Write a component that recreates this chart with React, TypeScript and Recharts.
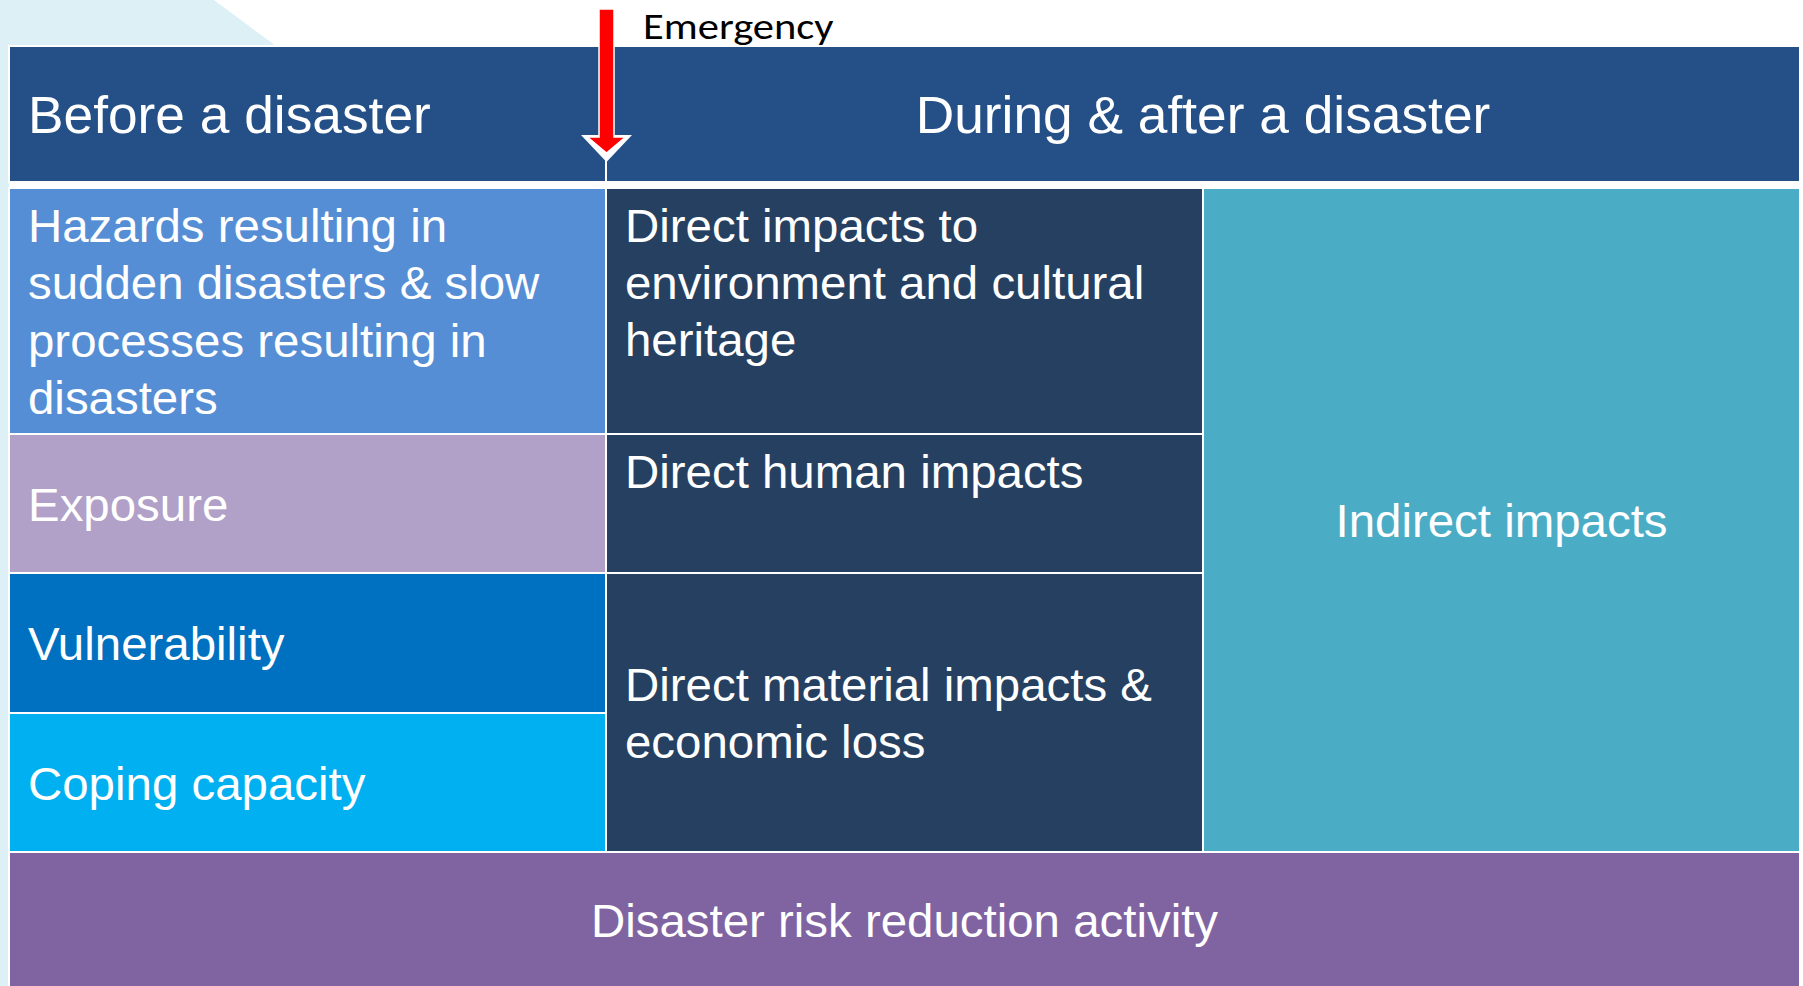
import React from "react";
import { ComposedChart, XAxis, YAxis, ReferenceArea, ReferenceLine } from "recharts";

// ---- content of the diagram ----
const phases = ["Before a disaster", "During & after a disaster"];
const phaseColumns = [
  [0, 1],
  [1, 3],
];

const riskFactors = [
  ["Hazards resulting in", "sudden disasters & slow", "processes resulting in", "disasters"],
  ["Exposure"],
  ["Vulnerability"],
  ["Coping capacity"],
];

const directImpacts = [
  ["Direct impacts to", "environment and cultural", "heritage"],
  ["Direct human impacts"],
  ["Direct material impacts &", "economic loss"],
];
// which body rows each direct impact spans [from, to)
const directImpactRows = [
  [0, 1],
  [1, 2],
  [2, 4],
];

const indirectImpacts = ["Indirect impacts"];
const drrActivity = ["Disaster risk reduction activity"];

const emergencyLabel = "Emergency";
const emergencyColumn = 1; // boundary between "before" and "during"

// ---- layout (slide pixels) ----
const W = 1803;
const H = 986;
const HEADER_Y = [46, 182];
const BODY_ROWS = [188, 434, 573, 713, 852];
const FOOTER_Y = [852, 988];
const ARROW_Y = [9, 162];

// ---- styles ----
const HEADER_FILL = "#245087";
const RISK_FILLS = ["#558ed5", "#b1a0c7", "#0070c0", "#00b0f0"];
const DIRECT_FILL = "#264061";
const INDIRECT_FILL = "#4bacc6";
const FOOTER_FILL = "#8064a2";
const BODY_SIZE = 46.5;
const PHASE_SIZE = 51.5;
const LINE_H = 57.5;
const FONT = "'Liberation Sans', Arial, sans-serif";

type Cell = {
  x1: number;
  x2: number;
  y1: number;
  y2: number;
  lines: string[];
  fill: string;
  align: "left" | "center";
  valign: "top" | "middle";
  size: number;
  sx: number;
};

const cells: Cell[] = [
  ...phases.map((p, i) => ({
    x1: phaseColumns[i][0],
    x2: phaseColumns[i][1],
    y1: HEADER_Y[0],
    y2: HEADER_Y[1],
    lines: [p],
    fill: HEADER_FILL,
    align: (i === 0 ? "left" : "center") as "left" | "center",
    valign: "middle" as const,
    size: PHASE_SIZE,
    sx: 1.035,
  })),
  ...riskFactors.map((lines, i) => ({
    x1: 0,
    x2: 1,
    y1: BODY_ROWS[i],
    y2: BODY_ROWS[i + 1],
    lines,
    fill: RISK_FILLS[i],
    align: "left" as const,
    valign: "middle" as const,
    size: BODY_SIZE,
    sx: 1.02,
  })),
  ...directImpacts.map((lines, i) => ({
    x1: 1,
    x2: 2,
    y1: BODY_ROWS[directImpactRows[i][0]],
    y2: BODY_ROWS[directImpactRows[i][1]],
    lines,
    fill: DIRECT_FILL,
    align: "left" as const,
    valign: (i < 2 ? "top" : "middle") as "top" | "middle",
    size: BODY_SIZE,
    sx: 1.02,
  })),
  {
    x1: 2,
    x2: 3,
    y1: BODY_ROWS[0],
    y2: BODY_ROWS[4],
    lines: indirectImpacts,
    fill: INDIRECT_FILL,
    align: "center",
    valign: "middle",
    size: BODY_SIZE,
    sx: 1.02,
  },
  {
    x1: 0,
    x2: 3,
    y1: FOOTER_Y[0],
    y2: FOOTER_Y[1],
    lines: drrActivity,
    fill: FOOTER_FILL,
    align: "center",
    valign: "middle",
    size: BODY_SIZE,
    sx: 1.02,
  },
];

const cellShape = (cell: Cell) => (p: any) => {
  const { x, y, width, height } = p;
  const n = cell.lines.length;
  const tx = cell.align === "left" ? x + 19 : x + width / 2;
  const ty =
    cell.valign === "top"
      ? y + 53.5
      : y + height / 2 - ((n - 1) * LINE_H) / 2 + cell.size * 0.37;
  return (
    <g>
      <rect x={x} y={y} width={width} height={height} fill={cell.fill} stroke="#fff" strokeWidth={2} />
      <text
        transform={`translate(${tx},${ty}) scale(${cell.sx},1)`}
        fill="#fff"
        fontFamily={FONT}
        fontSize={cell.size}
        textAnchor={cell.align === "left" ? "start" : "middle"}
      >
        {cell.lines.map((l, i) => (
          <tspan key={i} x={0} dy={i === 0 ? 0 : LINE_H}>
            {l}
          </tspan>
        ))}
      </text>
    </g>
  );
};

const EmergencyArrow = (p: any) => {
  const cx = p.x1 + 0.5;
  const top = p.y1;
  const tip = p.y2;
  return (
    <g>
      <polygon
        points={`${cx - 25.5},${tip - 27} ${cx + 25.5},${tip - 27} ${cx},${tip}`}
        fill="#fff"
      />
      <polygon
        points={[
          [cx - 7.5, top],
          [cx + 7.5, top],
          [cx + 7.5, tip - 25],
          [cx + 19, tip - 25],
          [cx, tip - 9],
          [cx - 19, tip - 25],
          [cx - 7.5, tip - 25],
        ]
          .map((q) => q.join(","))
          .join(" ")}
        fill="#ff0000"
        stroke="#fff"
        strokeWidth={1.5}
      />
      <text
        transform={`translate(${cx + 36.5},39) scale(1.15,1)`}
        fontFamily="Carlito, Lato, sans-serif"
        fontSize={37}
        fill="#000"
      >
        {emergencyLabel}
      </text>
    </g>
  );
};

export default function App() {
  return (
    <div style={{ position: "absolute", left: 0, top: 0, width: W, height: H, background: "#fff", overflow: "hidden" }}>
      <svg width={W} height={H} style={{ position: "absolute", left: 0, top: 0 }}>
        <polygon points="0,0 214,0 276,46 9,46 9,986 0,986" fill="#ddf0f5" />
      </svg>
      <div style={{ position: "absolute", left: 0, top: 0 }}>
        <ComposedChart width={W} height={H} margin={{ top: 0, right: 3, bottom: 0, left: 9 }}>
          <XAxis type="number" dataKey="x" domain={[0, 3]} hide allowDataOverflow />
          <YAxis type="number" dataKey="y" domain={[0, H]} reversed hide allowDataOverflow />
          {cells.map((c, i) => (
            <ReferenceArea
              key={i}
              x1={c.x1}
              x2={c.x2}
              y1={c.y1}
              y2={c.y2}
              ifOverflow="visible"
              shape={cellShape(c)}
            />
          ))}
          <ReferenceLine
            segment={[
              { x: emergencyColumn, y: ARROW_Y[0] },
              { x: emergencyColumn, y: ARROW_Y[1] },
            ]}
            ifOverflow="visible"
            shape={EmergencyArrow}
          />
        </ComposedChart>
      </div>
    </div>
  );
}
